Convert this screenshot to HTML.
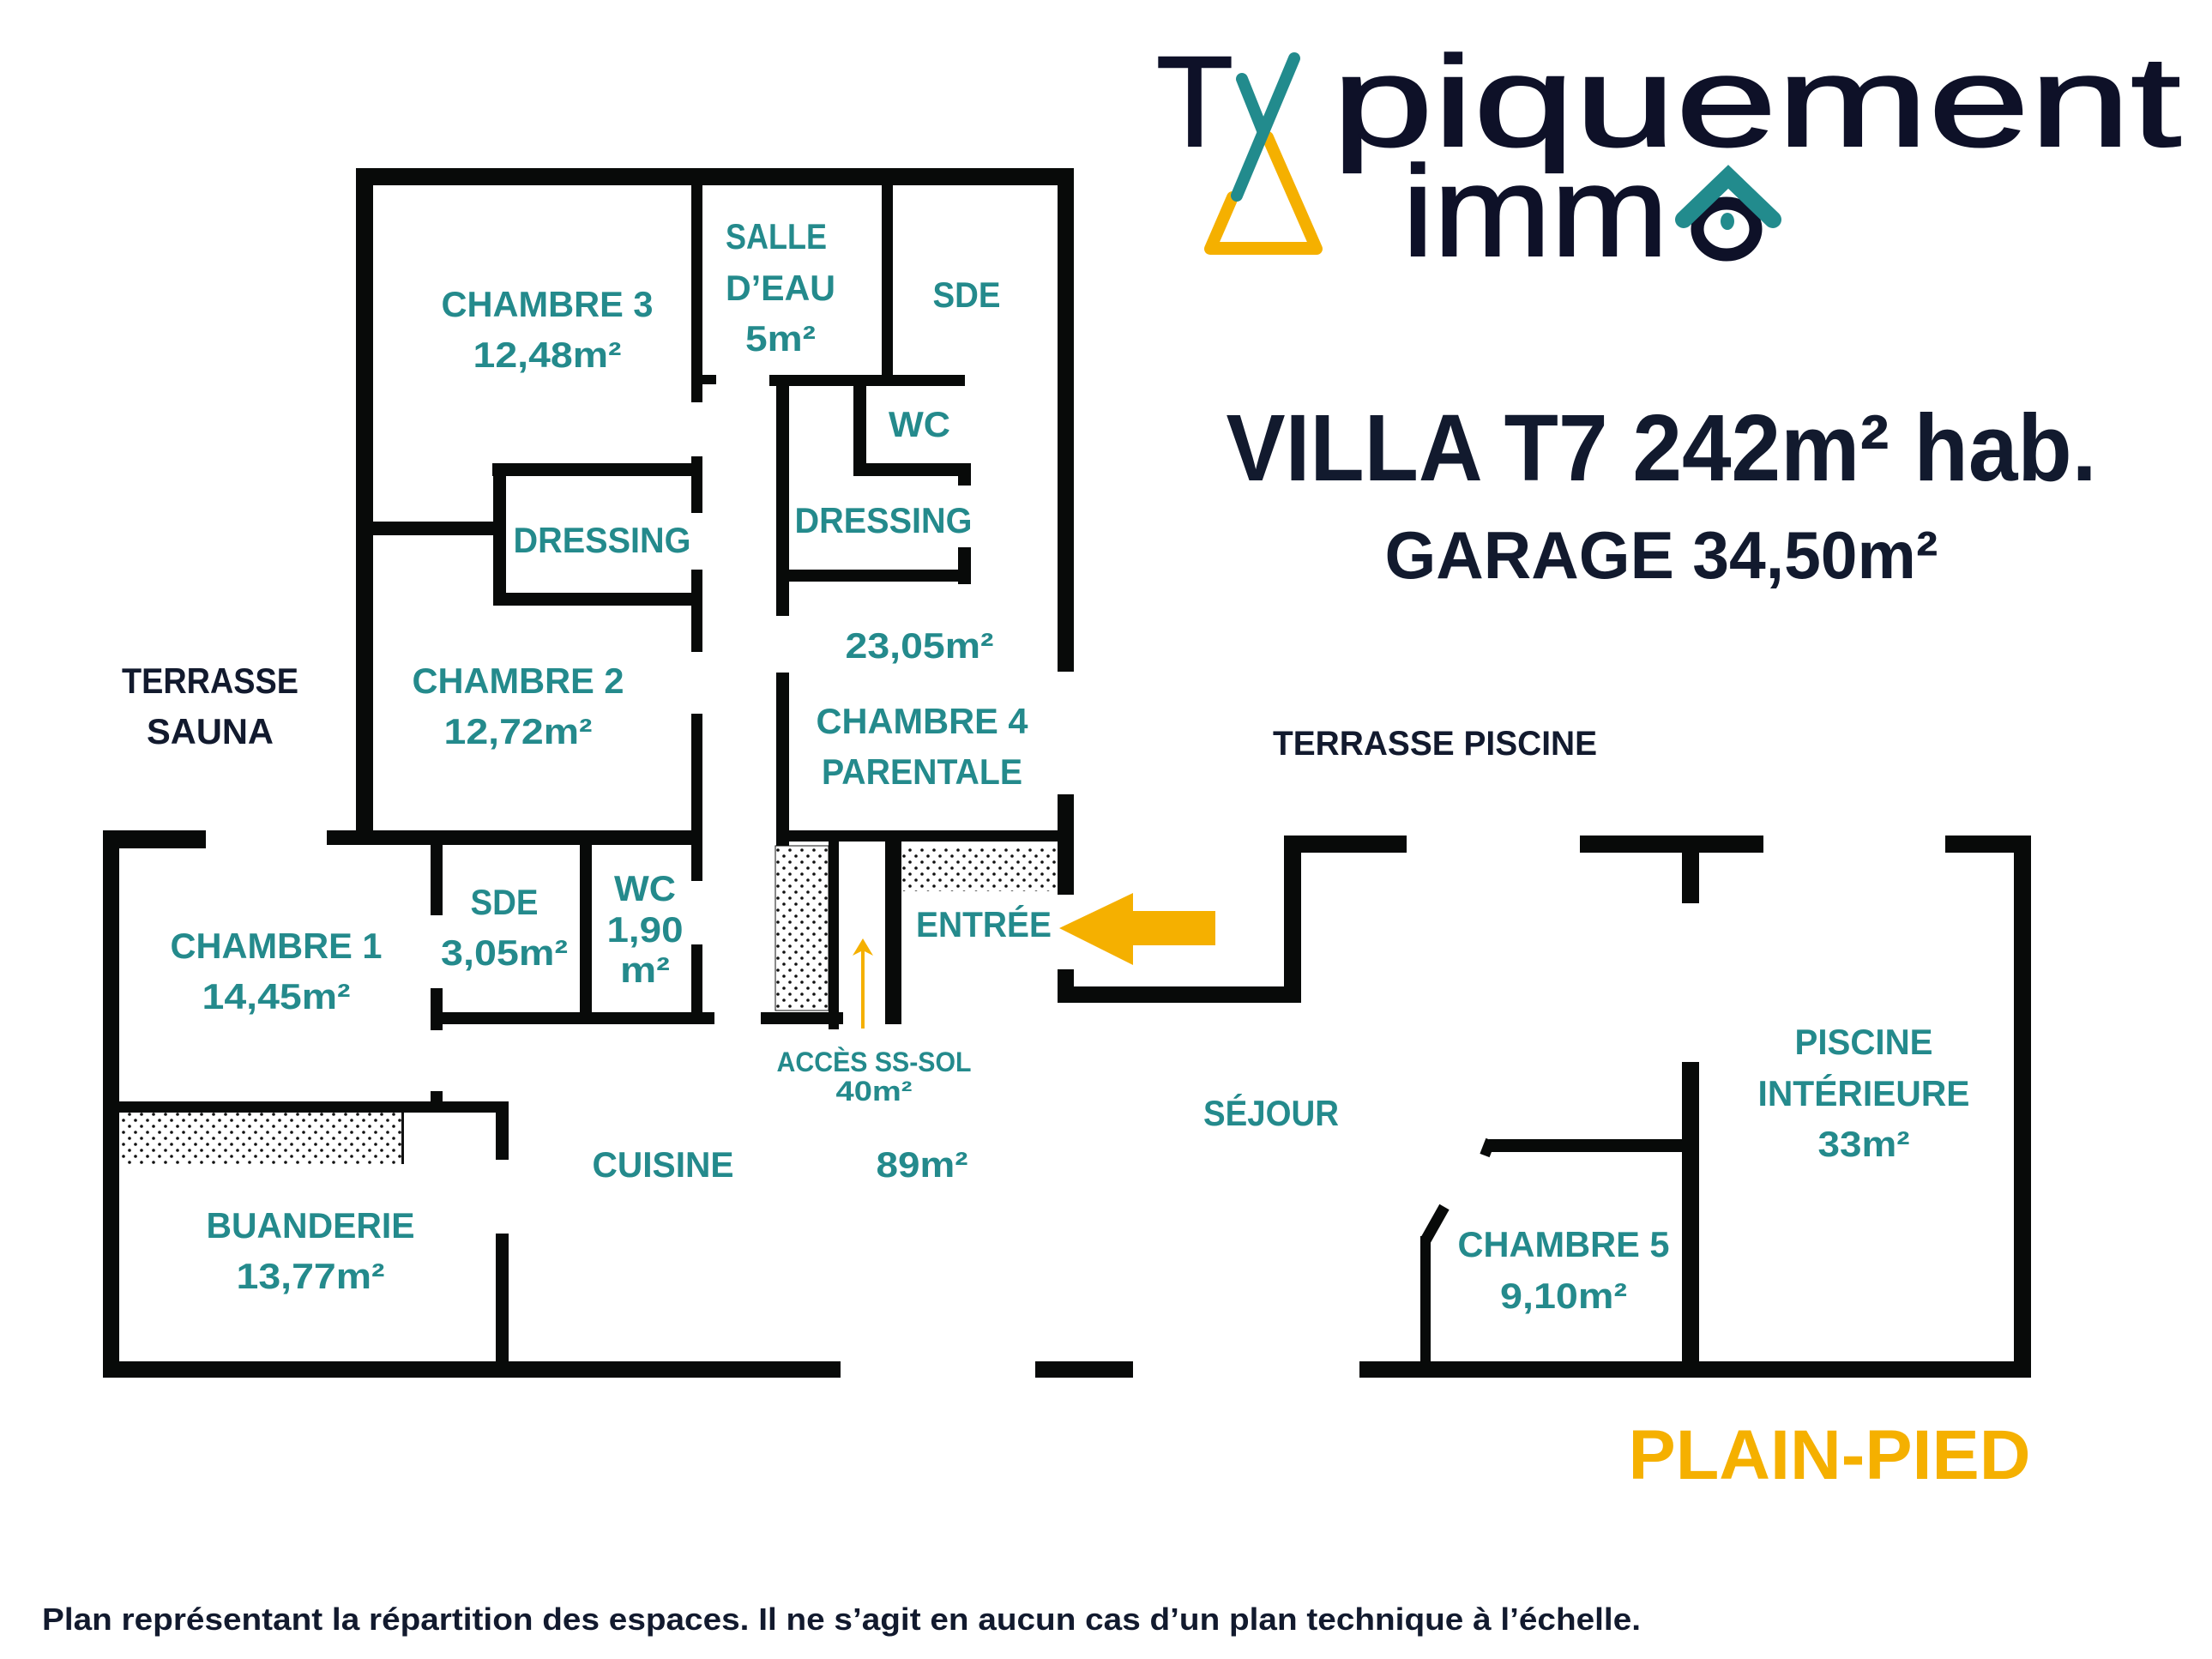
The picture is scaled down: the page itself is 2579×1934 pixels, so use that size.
<!DOCTYPE html>
<html><head><meta charset="utf-8"><style>html,body{margin:0;padding:0;background:#fff}svg{display:block}</style></head>
<body>
<svg width="2579" height="1934" viewBox="0 0 2579 1934" xmlns="http://www.w3.org/2000/svg">
<defs>
<pattern id="dots" width="14" height="14" patternUnits="userSpaceOnUse">
<rect width="14" height="14" fill="#fff"/><circle cx="4" cy="4" r="1.8" fill="#111"/><circle cx="11" cy="11" r="1.8" fill="#111"/>
</pattern>
</defs>
<rect width="2579" height="1934" fill="#fff"/>
<rect x="904" y="986" width="62" height="192" fill="url(#dots)" stroke="#111" stroke-width="1"/>
<rect x="1051" y="986" width="182" height="53" fill="url(#dots)"/>
<rect x="139" y="1297" width="330" height="60" fill="url(#dots)"/>
<rect x="468" y="1297" width="3" height="60" fill="#111"/>
<g fill="#080a09">
<rect x="415" y="196" width="837" height="20"/>
<rect x="415" y="196" width="20" height="789"/>
<rect x="806" y="196" width="13" height="273"/>
<rect x="806" y="437" width="29" height="11"/>
<rect x="806" y="532" width="13" height="66"/>
<rect x="806" y="664" width="13" height="96"/>
<rect x="806" y="832" width="13" height="195"/>
<rect x="806" y="1101" width="13" height="86"/>
<rect x="1028" y="196" width="13" height="253"/>
<rect x="897" y="437" width="228" height="13"/>
<rect x="905" y="437" width="15" height="281"/>
<rect x="905" y="784" width="15" height="202"/>
<rect x="1233" y="196" width="19" height="587"/>
<rect x="1233" y="926" width="19" height="117"/>
<rect x="1233" y="1130" width="19" height="39"/>
<rect x="995" y="437" width="15" height="115"/>
<rect x="995" y="540" width="137" height="15"/>
<rect x="1117" y="540" width="15" height="26"/>
<rect x="1117" y="638" width="15" height="43"/>
<rect x="912" y="664" width="220" height="14"/>
<rect x="574" y="540" width="245" height="15"/>
<rect x="575" y="540" width="15" height="166"/>
<rect x="575" y="691" width="244" height="15"/>
<rect x="435" y="608" width="145" height="16"/>
<rect x="381" y="968" width="438" height="17"/>
<rect x="920" y="968" width="332" height="13"/>
<rect x="120" y="968" width="120" height="21"/>
<rect x="120" y="968" width="19" height="638"/>
<rect x="120" y="1587" width="860" height="19"/>
<rect x="1207" y="1587" width="114" height="19"/>
<rect x="1585" y="1587" width="783" height="19"/>
<rect x="502" y="981" width="14" height="86"/>
<rect x="502" y="1152" width="14" height="49"/>
<rect x="502" y="1272" width="14" height="12"/>
<rect x="502" y="1180" width="331" height="14"/>
<rect x="676" y="981" width="14" height="206"/>
<rect x="887" y="1180" width="96" height="14"/>
<rect x="966" y="981" width="12" height="219"/>
<rect x="1032" y="981" width="19" height="213"/>
<rect x="1233" y="1150" width="284" height="19"/>
<rect x="1497" y="974" width="20" height="195"/>
<rect x="1497" y="974" width="143" height="20"/>
<rect x="1842" y="974" width="214" height="20"/>
<rect x="1961" y="994" width="20" height="59"/>
<rect x="2268" y="974" width="100" height="20"/>
<rect x="2348" y="974" width="20" height="632"/>
<rect x="1961" y="1238" width="20" height="368"/>
<rect x="1736" y="1328" width="245" height="15"/>
<rect x="1656" y="1441" width="12" height="165"/>
<rect x="120" y="1284" width="473" height="13"/>
<rect x="578" y="1284" width="15" height="68"/>
<rect x="578" y="1438" width="15" height="168"/>
</g>
<line x1="1662" y1="1446" x2="1684" y2="1407" stroke="#080a09" stroke-width="13"/>
<line x1="1731" y1="1347" x2="1738" y2="1329" stroke="#080a09" stroke-width="12"/>
<line x1="1006" y1="1199" x2="1006" y2="1108" stroke="#f5b000" stroke-width="4"/>
<polygon points="994,1114 1006,1094 1018,1114 1006,1108" fill="#f5b000"/>
<polygon points="1235,1082 1321,1041 1321,1062 1417,1062 1417,1102 1321,1102 1321,1125" fill="#f5b000"/>
<g font-family="Liberation Sans, sans-serif" font-weight="bold" font-size="42" fill="#248a8c" text-anchor="middle">
<text x="638" y="369" textLength="247" lengthAdjust="spacingAndGlyphs">CHAMBRE 3</text>
<text x="638" y="428" textLength="173" lengthAdjust="spacingAndGlyphs">12,48m²</text>
<text x="905" y="290" textLength="118" lengthAdjust="spacingAndGlyphs">SALLE</text>
<text x="910" y="350" textLength="128" lengthAdjust="spacingAndGlyphs">D’EAU</text>
<text x="910" y="409" textLength="82" lengthAdjust="spacingAndGlyphs">5m²</text>
<text x="1127" y="358" textLength="79" lengthAdjust="spacingAndGlyphs">SDE</text>
<text x="1072" y="509" textLength="72" lengthAdjust="spacingAndGlyphs">WC</text>
<text x="702" y="644" textLength="207" lengthAdjust="spacingAndGlyphs">DRESSING</text>
<text x="1030" y="621" textLength="207" lengthAdjust="spacingAndGlyphs">DRESSING</text>
<text x="1072" y="767" textLength="173" lengthAdjust="spacingAndGlyphs">23,05m²</text>
<text x="1075" y="855" textLength="247" lengthAdjust="spacingAndGlyphs">CHAMBRE 4</text>
<text x="1075" y="914" textLength="234" lengthAdjust="spacingAndGlyphs">PARENTALE</text>
<text x="604" y="808" textLength="247" lengthAdjust="spacingAndGlyphs">CHAMBRE 2</text>
<text x="604" y="867" textLength="173" lengthAdjust="spacingAndGlyphs">12,72m²</text>
<text x="322" y="1117" textLength="247" lengthAdjust="spacingAndGlyphs">CHAMBRE 1</text>
<text x="322" y="1176" textLength="173" lengthAdjust="spacingAndGlyphs">14,45m²</text>
<text x="588" y="1066" textLength="79" lengthAdjust="spacingAndGlyphs">SDE</text>
<text x="588" y="1125" textLength="148" lengthAdjust="spacingAndGlyphs">3,05m²</text>
<text x="752" y="1050" textLength="72" lengthAdjust="spacingAndGlyphs">WC</text>
<text x="752" y="1098" textLength="89" lengthAdjust="spacingAndGlyphs">1,90</text>
<text x="752" y="1145" textLength="58" lengthAdjust="spacingAndGlyphs">m²</text>
<text x="1147" y="1092" textLength="158" lengthAdjust="spacingAndGlyphs">ENTRÉE</text>
<text x="1019" y="1249" font-size="32" textLength="227" lengthAdjust="spacingAndGlyphs">ACCÈS SS-SOL</text>
<text x="1019" y="1283" font-size="32" textLength="89" lengthAdjust="spacingAndGlyphs">40m²</text>
<text x="773" y="1372" textLength="165" lengthAdjust="spacingAndGlyphs">CUISINE</text>
<text x="1075" y="1372" textLength="107" lengthAdjust="spacingAndGlyphs">89m²</text>
<text x="362" y="1443" textLength="243" lengthAdjust="spacingAndGlyphs">BUANDERIE</text>
<text x="362" y="1502" textLength="173" lengthAdjust="spacingAndGlyphs">13,77m²</text>
<text x="1482" y="1312" textLength="158" lengthAdjust="spacingAndGlyphs">SÉJOUR</text>
<text x="2173" y="1229" textLength="161" lengthAdjust="spacingAndGlyphs">PISCINE</text>
<text x="2173" y="1289" textLength="247" lengthAdjust="spacingAndGlyphs">INTÉRIEURE</text>
<text x="2173" y="1348" textLength="107" lengthAdjust="spacingAndGlyphs">33m²</text>
<text x="1823" y="1465" textLength="247" lengthAdjust="spacingAndGlyphs">CHAMBRE 5</text>
<text x="1823" y="1525" textLength="148" lengthAdjust="spacingAndGlyphs">9,10m²</text>
</g>
<g font-family="Liberation Sans, sans-serif" font-weight="bold" fill="#121a2e" text-anchor="middle">
<text x="245" y="808" font-size="42" textLength="206" lengthAdjust="spacingAndGlyphs">TERRASSE</text>
<text x="245" y="867" font-size="42" textLength="148" lengthAdjust="spacingAndGlyphs">SAUNA</text>
<text x="1673" y="880" font-size="40" textLength="378" lengthAdjust="spacingAndGlyphs">TERRASSE PISCINE</text>
<text x="1937" y="560" font-size="110" textLength="1015" lengthAdjust="spacingAndGlyphs">VILLA T7 242m² hab.</text>
<text x="1937" y="674" font-size="78" textLength="645" lengthAdjust="spacingAndGlyphs">GARAGE 34,50m²</text>
<text x="2133" y="1724" font-size="82" fill="#f5b000" textLength="469" lengthAdjust="spacingAndGlyphs">PLAIN-PIED</text>
</g>
<text x="49" y="1900" font-family="Liberation Sans, sans-serif" font-weight="bold" font-size="36" fill="#121a2e" textLength="1864" lengthAdjust="spacingAndGlyphs">Plan représentant la répartition des espaces. Il ne s’agit en aucun cas d’un plan technique à l’échelle.</text>
<g font-family="Liberation Sans, DejaVu Sans, sans-serif" fill="#0e1128" stroke="#0e1128" stroke-width="2">
<text x="1348" y="170" font-size="150" textLength="90" lengthAdjust="spacingAndGlyphs">T</text>
<text x="1553" y="170" font-size="150" textLength="990" lengthAdjust="spacingAndGlyphs">piquement</text>
<text x="1635" y="298" font-size="150" textLength="310" lengthAdjust="spacingAndGlyphs">imm</text>
</g>
<polyline points="1437,230 1411,290 1535,290 1478,160" fill="none" stroke="#f5b000" stroke-width="14" stroke-linejoin="round" stroke-linecap="round"/>
<rect x="1412" y="282" width="122" height="15" fill="#f5b000"/>
<line x1="1509" y1="68" x2="1442" y2="228" stroke="#228b8d" stroke-width="14" stroke-linecap="round"/>
<line x1="1448" y1="92" x2="1472" y2="152" stroke="#228b8d" stroke-width="14" stroke-linecap="round"/>
<ellipse cx="2013" cy="267" rx="34" ry="30" fill="none" stroke="#0e1128" stroke-width="15"/>
<ellipse cx="2014" cy="258" rx="8" ry="10" fill="#228b8d"/>
<polyline points="1963,256 2015,206 2067,256" fill="none" stroke="#228b8d" stroke-width="20" stroke-linecap="round" stroke-linejoin="miter"/>
</svg>
</body></html>
